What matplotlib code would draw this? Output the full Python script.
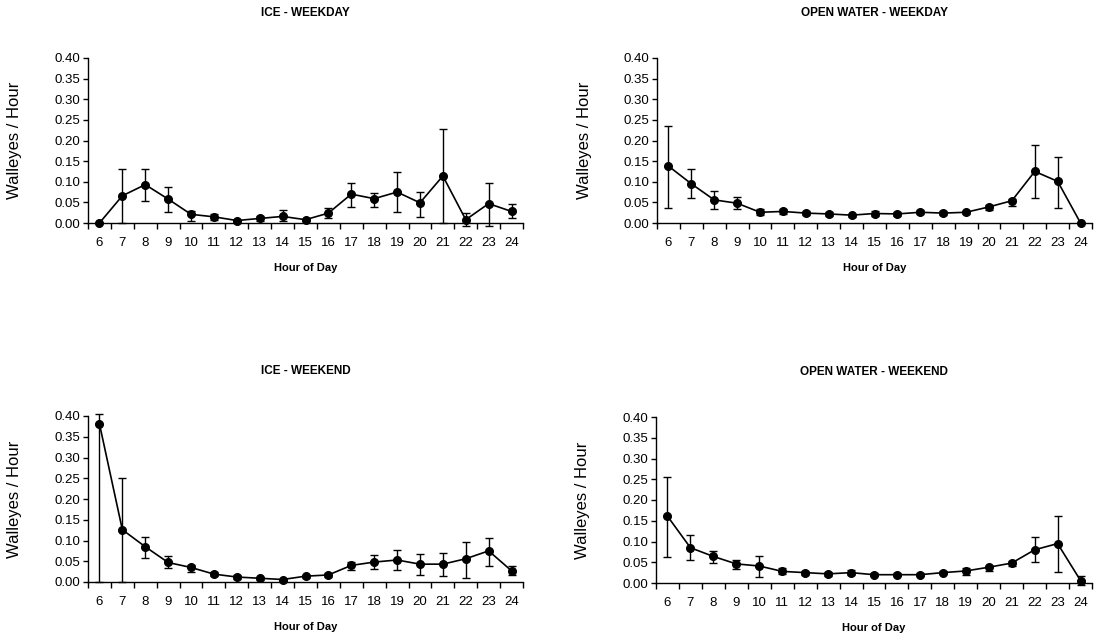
import matplotlib
matplotlib.use("Agg")
import matplotlib.pyplot as plt
import numpy as np

plt.rcParams['font.family'] = ['Liberation Sans', 'DejaVu Sans']

hours = [6, 7, 8, 9, 10, 11, 12, 13, 14, 15, 16, 17, 18, 19, 20, 21, 22, 23, 24]

# ICE - WEEKDAY
ice_wd = [0.000, 0.066, 0.093, 0.058, 0.021, 0.015, 0.006, 0.011, 0.016, 0.008, 0.024, 0.070, 0.059, 0.075, 0.049, 0.114, 0.008, 0.047, 0.028]
ice_wd_hi = [0.000, 0.131, 0.131, 0.088, 0.029, 0.021, 0.008, 0.017, 0.031, 0.010, 0.036, 0.097, 0.073, 0.123, 0.075, 0.228, 0.025, 0.097, 0.045]
ice_wd_lo = [0.000, 0.000, 0.054, 0.026, 0.006, 0.008, 0.004, 0.005, 0.006, 0.006, 0.011, 0.039, 0.039, 0.026, 0.015, 0.000, -0.007, -0.007, 0.011]

# OPEN WATER - WEEKDAY
ow_wd = [0.138, 0.095, 0.056, 0.048, 0.026, 0.028, 0.024, 0.022, 0.019, 0.023, 0.022, 0.026, 0.024, 0.026, 0.039, 0.054, 0.125, 0.101, 0.000]
ow_wd_hi = [0.236, 0.131, 0.078, 0.062, 0.033, 0.035, 0.028, 0.027, 0.023, 0.029, 0.026, 0.031, 0.028, 0.030, 0.043, 0.059, 0.189, 0.160, 0.000]
ow_wd_lo = [0.037, 0.061, 0.034, 0.034, 0.019, 0.021, 0.020, 0.017, 0.015, 0.017, 0.018, 0.021, 0.020, 0.022, 0.031, 0.042, 0.061, 0.037, 0.000]

# ICE - WEEKEND
ice_we = [0.381, 0.126, 0.085, 0.047, 0.035, 0.019, 0.012, 0.009, 0.006, 0.014, 0.017, 0.040, 0.048, 0.053, 0.043, 0.043, 0.056, 0.075, 0.027]
ice_we_hi = [0.406, 0.250, 0.109, 0.062, 0.042, 0.024, 0.016, 0.012, 0.008, 0.018, 0.022, 0.047, 0.065, 0.076, 0.067, 0.069, 0.096, 0.107, 0.039]
ice_we_lo = [0.000, 0.000, 0.058, 0.034, 0.025, 0.014, 0.008, 0.006, 0.004, 0.010, 0.012, 0.028, 0.031, 0.028, 0.018, 0.014, 0.010, 0.039, 0.016]

# OPEN WATER - WEEKEND
ow_we = [0.161, 0.085, 0.064, 0.046, 0.041, 0.028, 0.025, 0.022, 0.025, 0.020, 0.020, 0.020, 0.025, 0.029, 0.038, 0.048, 0.080, 0.095, 0.006]
ow_we_hi = [0.256, 0.115, 0.076, 0.056, 0.066, 0.035, 0.030, 0.026, 0.031, 0.024, 0.023, 0.023, 0.029, 0.035, 0.042, 0.053, 0.111, 0.162, 0.018]
ow_we_lo = [0.063, 0.055, 0.047, 0.034, 0.014, 0.021, 0.020, 0.018, 0.019, 0.016, 0.017, 0.017, 0.021, 0.019, 0.030, 0.040, 0.050, 0.026, -0.005]

titles = ["ICE - WEEKDAY", "OPEN WATER - WEEKDAY", "ICE - WEEKEND", "OPEN WATER - WEEKEND"]
series = [(ice_wd, ice_wd_lo, ice_wd_hi), (ow_wd, ow_wd_lo, ow_wd_hi),
          (ice_we, ice_we_lo, ice_we_hi), (ow_we, ow_we_lo, ow_we_hi)]

W, H = 1096, 638
fig = plt.figure(figsize=(W / 100, H / 100), dpi=100)

# pixel boxes: (left, right, top, bottom)
boxes = [(88, 523, 58, 223), (657, 1092, 58, 223),
         (88, 523, 416, 582), (656, 1092, 417, 583)]
yticks = [0.00, 0.05, 0.10, 0.15, 0.20, 0.25, 0.30, 0.35, 0.40]
x = np.arange(len(hours))

for (l, r, t, b), title, (v, lo, hi) in zip(boxes, titles, series):
    ax = fig.add_axes([l / W, 1 - b / H, (r - l) / W, (b - t) / H])
    v = np.array(v); lo = np.array(lo); hi = np.array(hi)
    yerr = np.vstack([v - lo, hi - v])
    mask = (hi - lo) > 0
    ax.errorbar(x[mask], v[mask], yerr=yerr[:, mask], fmt='none', ecolor='black',
                elinewidth=1.0, capsize=3.2, capthick=1.0, clip_on=False, zorder=2)
    ax.plot(x, v, color='black', lw=1.2, marker='o', markersize=5.5, clip_on=False, zorder=3)
    ax.set_xlim(-0.5, len(hours) - 0.5)
    ax.set_ylim(0, 0.40)
    ax.set_yticks(yticks)
    ax.set_yticklabels([f"{t:.2f}" for t in yticks], fontsize=9.5)
    ax.set_xticks(x)
    ax.set_xticklabels([str(h) for h in hours], fontsize=9.5)
    ax.set_xticks(np.arange(-0.5, len(hours), 1.0), minor=True)
    ax.tick_params(axis='x', which='major', length=0, pad=10)
    ax.tick_params(axis='x', which='minor', length=4.5, width=1.0, direction='out')
    ax.tick_params(axis='y', which='major', length=3.5, width=1.0, direction='out', pad=2)
    for s in ['top', 'right']:
        ax.spines[s].set_visible(False)
    for s in ['left', 'bottom']:
        ax.spines[s].set_linewidth(1.0)
    cx = (l + r) / 2
    fig.text(cx / W, 1 - (t - 45) / H, title, ha='center', va='center',
             fontsize=8.5, fontweight='bold')
    fig.text(cx / W, 1 - (b + 45) / H, "Hour of Day", ha='center', va='center',
             fontsize=8, fontweight='bold')
    fig.text((l - 73) / W, 1 - ((t + b) / 2) / H, "Walleyes / Hour", ha='center',
             va='center', rotation=90, fontsize=12)

fig.savefig("out.png", dpi=100)
